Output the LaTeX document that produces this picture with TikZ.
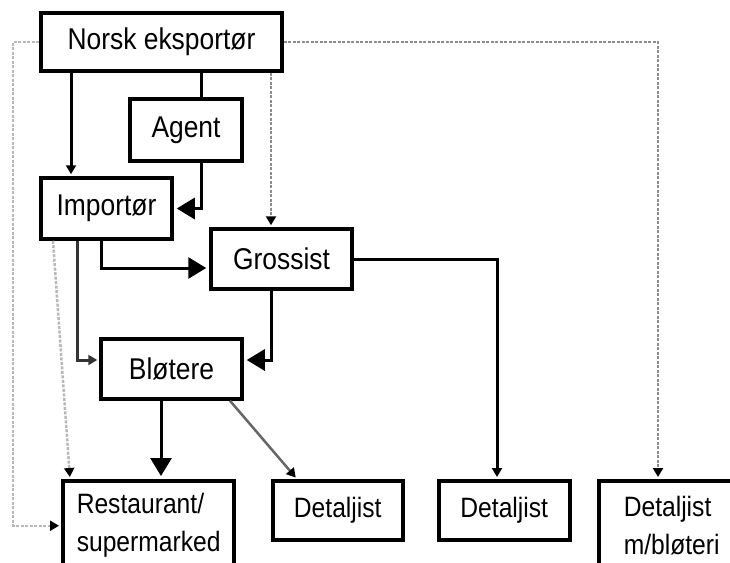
\documentclass[tikz,border=0pt]{standalone}
\usepackage{fontspec}
\setmainfont{Liberation Sans}[FakeStretch=0.88]
\usepackage{tikz}
\usetikzlibrary{
  arrows.meta,
  positioning
}
\tikzset{
  unitbox/.style={draw, line width=3.5pt, inner sep=0pt,
    align=center, font=\fontsize{30}{36}\selectfont},
  shopbox/.style={draw, line width=3.5pt, inner ysep=0pt,
    anchor=north west, align=left,
    font=\fontsize{28}{38}\selectfont},
  link/.style={line width=3pt},
  arr/.style={line width=3pt, shorten >=2pt,
    -{Triangle[length=9pt, width=10pt]}},
  bigarr/.style={line width=3pt, shorten >=3pt,
    -{Triangle[length=18pt, width=21pt]}},
  greyarr/.style={arr, draw=black!60, line width=2.5pt,
    -{Triangle[length=9pt, width=10pt, color=black]}},
  dotarr/.style={arr, draw=black!45, line width=2.5pt,
    dash pattern=on 3pt off 1.5pt,
    -{Triangle[length=9pt, width=10pt, color=black]}},
  lightarr/.style={dotarr, draw=black!28},
}

\begin{document}
\begin{tikzpicture}[x=1pt, y=-1pt]
  \useasboundingbox (0,0) rectangle (730,562);
  \clip (0,0) rectangle (730,562);

  % Upper chain
  \node[unitbox, minimum width=241pt, minimum height=58pt] (eksp)
    at (161.5,42) {Norsk eksportør};
  \node[unitbox, minimum width=112pt, minimum height=62pt] (agent)
    at (186,130) {Agent};
  \node[unitbox, minimum width=131pt, minimum height=61pt] (imp)
    at (106.5,208.5) {Importør};
  \node[unitbox, minimum width=141pt, minimum height=60pt] (gross)
    at (281.5,259) {Grossist};
  \node[unitbox, minimum width=141pt, minimum height=60pt] (blot)
    at (171.5,369) {Bløtere};

  % Outlets
  \node[shopbox, text width=143pt, inner xsep=14pt, minimum height=90pt]
    (rest) at (61,479) {Restaurant/\\supermarked};
  \node[shopbox, align=center, minimum width=130pt, minimum height=59pt]
    (det1) at (271,479) {Detaljist};
  \node[shopbox, align=center, minimum width=131pt, minimum height=59pt]
    (det2) at (437,479) {Detaljist};
  \node[shopbox, text width=120pt, inner xsep=25pt, minimum height=90pt]
    (detb) at (597,479) {Detaljist\\m/bløteri};

  % Solid flows
  \draw[arr] (71,0 |- eksp.south) -- (71,0 |- imp.north);
  \draw[link] (201,0 |- eksp.south) -- (201,0 |- agent.north);
  \draw[bigarr] (201,0 |- agent.south) |- (imp.east);
  \draw[bigarr] (101,0 |- imp.south) |- ([yshift=-9pt]gross.west);
  \draw[arr, draw=black!80] (77,0 |- imp.south) |- ([yshift=9pt]blot.west);
  \draw[bigarr] (271,0 |- gross.south) |- ([yshift=9pt]blot.east);
  \draw[arr] (gross.east) -| (497,0 |- det2.north);
  \draw[bigarr] (161,0 |- blot.south) -- (161,0 |- rest.north);
  \draw[greyarr] (230,0 |- blot.south) -- (297,0 |- det1.north);

  % Dotted flows
  \draw[dotarr] (271,0 |- eksp.south) -- (271,0 |- gross.north);
  \draw[lightarr] (53,0 |- imp.south) -- (70,0 |- rest.north);
  \draw[lightarr] (eksp.west) -| (13,0 |- rest.west) -- (rest.west);
  \draw[dotarr] (eksp.east) -| (658,0 |- detb.north);
\end{tikzpicture}
\end{document}
